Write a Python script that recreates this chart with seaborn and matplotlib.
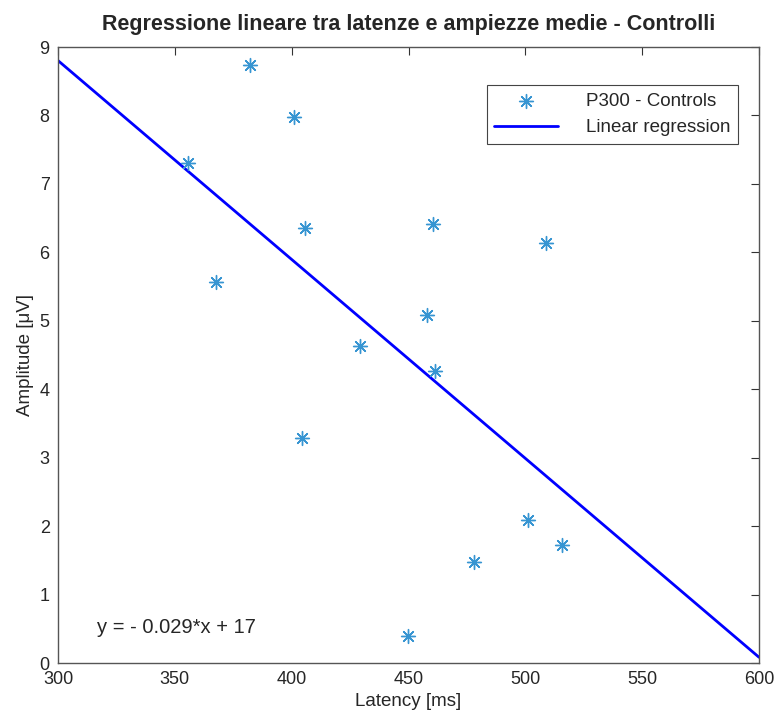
import numpy as np
import pandas as pd
import matplotlib
matplotlib.use("Agg")
import matplotlib.pyplot as plt
import seaborn as sns

# Data
latency = [382.2, 401.1, 355.5, 405.7, 460.3, 367.6, 457.8, 508.7,
           429.2, 461.4, 501.2, 515.5, 478.1, 449.9, 404.3]
amplitude = [8.73, 7.98, 7.31, 6.35, 6.42, 5.57, 5.08, 6.13,
             4.63, 4.27, 2.09, 1.72, 1.47, 0.39, 3.29]

# regression line as drawn (the label rounds it)
slope = -0.02906
intercept = 17.52
line_x = [300, 600]

df = pd.DataFrame({'Latency': latency, 'Amplitude': amplitude})
reg = pd.DataFrame({'x': line_x})
reg['y'] = slope * reg['x'] + intercept

sns.set_style('white')
plt.rcParams['font.family'] = ['Liberation Sans', 'DejaVu Sans']

fig = plt.figure(figsize=(7.79, 7.13), dpi=100)
ax = fig.add_axes([58 / 779, 50 / 713, 701 / 779, 616 / 713])

sns.scatterplot(data=df, x='Latency', y='Amplitude', ax=ax,
                marker=(8, 2, 0), s=100, color='#3795d2', linewidth=1.0,
                label='P300 - Controls', zorder=3)
sns.lineplot(data=reg, x='x', y='y', ax=ax, color='#0000ff',
             linewidth=2, label='Linear regression')

ax.set_xlim(300, 600)
ax.set_ylim(0, 9)
ax.set_xticks(range(300, 601, 50))
ax.set_yticks(range(0, 10))
ax.tick_params(direction='in', length=6, width=0.8, color='#333333',
               labelsize=13, top=True, right=True, pad=6)
for s in ax.spines.values():
    s.set_color('#555555')
    s.set_linewidth(1)

ax.set_xlabel('Latency [ms]', fontsize=13.5, labelpad=3)
ax.set_ylabel('Amplitude [μV]', fontsize=13.5, labelpad=4)
ax.set_title('Regressione lineare tra latenze e ampiezze medie - Controlli',
             fontsize=15.5, fontweight='bold', pad=12)

ax.text(316.5, 0.52, 'y = - 0.029*x + 17', fontsize=14.5, va='center', ha='left')

leg = ax.legend(loc='upper right', bbox_to_anchor=(0.970, 0.938),
                borderaxespad=0, fontsize=13.5, frameon=True, fancybox=False,
                edgecolor='#444444', framealpha=1, borderpad=0.4,
                handlelength=3.4, handletextpad=1.5, labelspacing=0.5)
leg.get_frame().set_linewidth(0.8)

fig.savefig('out.png', dpi=100)
